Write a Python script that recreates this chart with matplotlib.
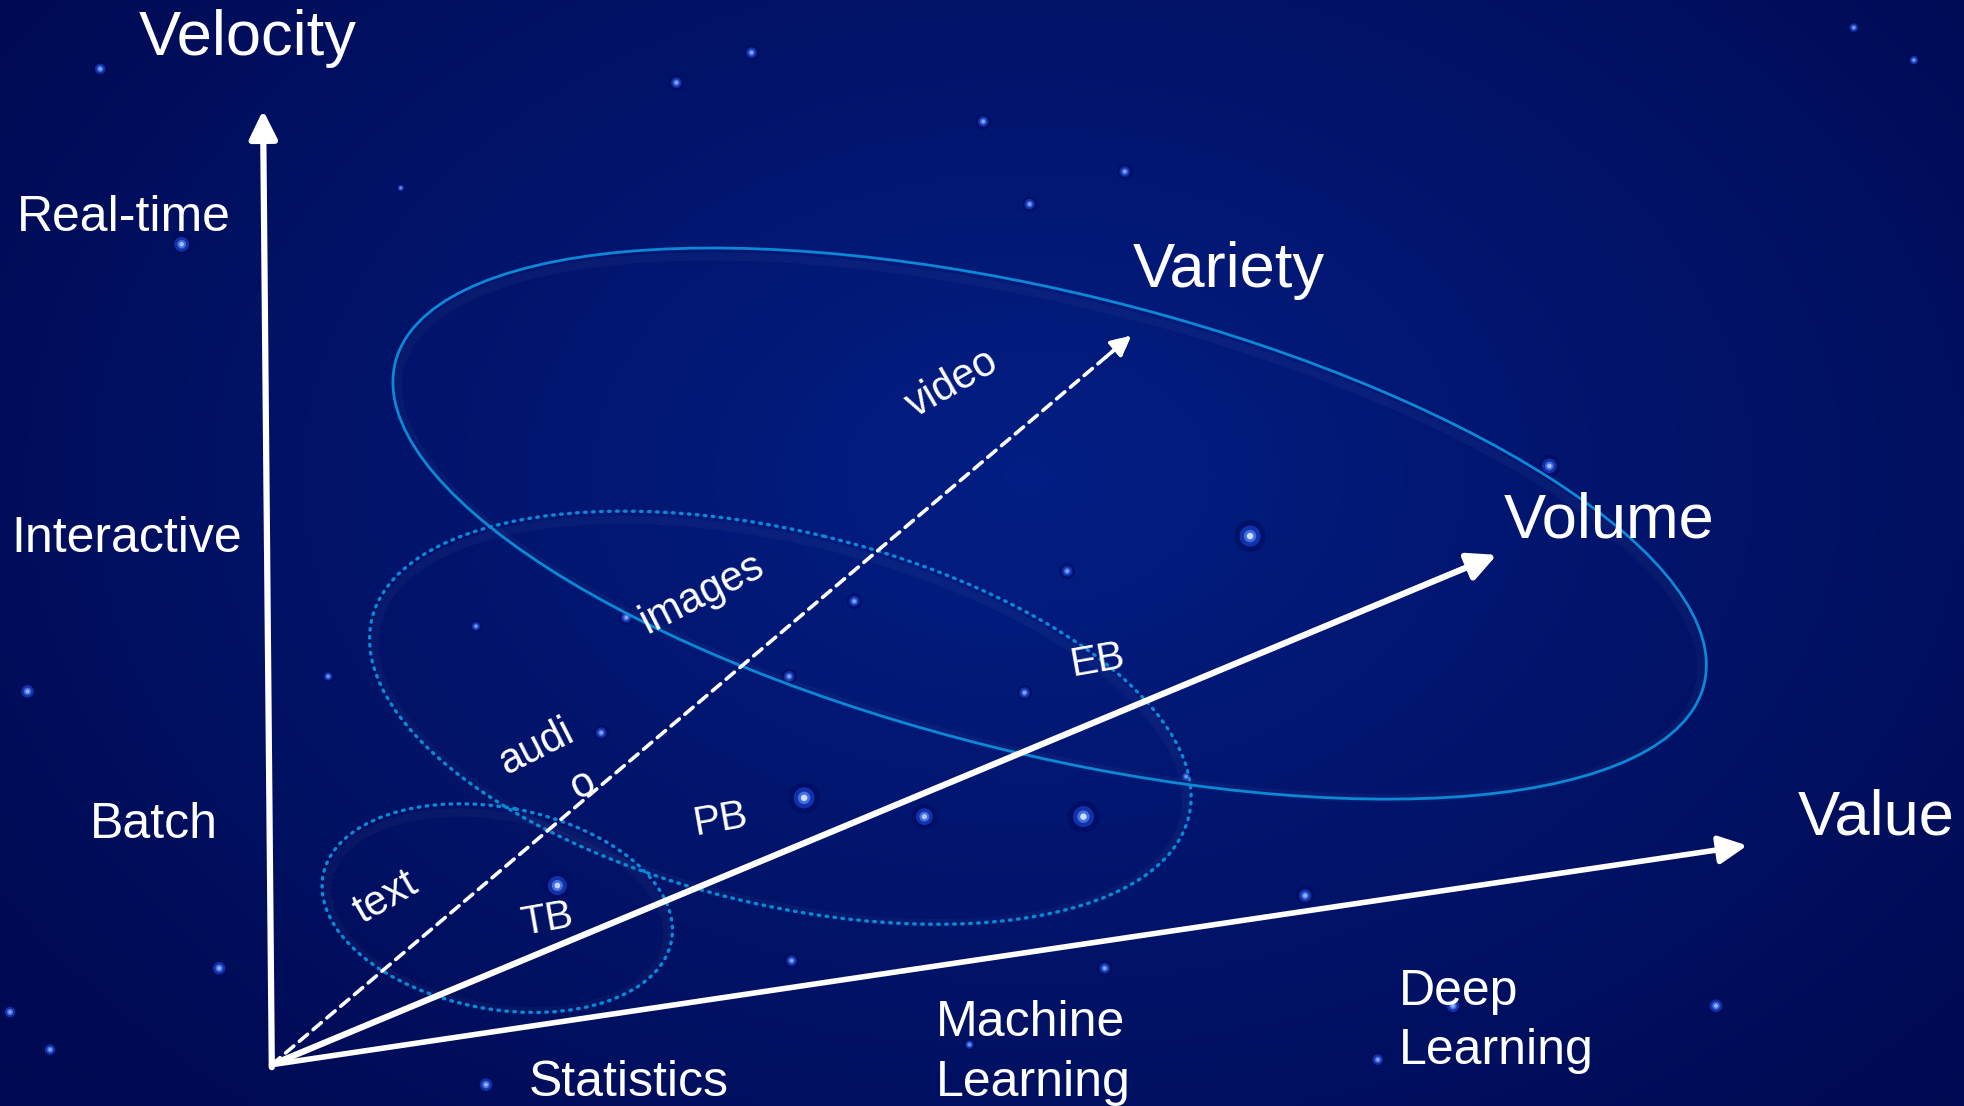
import numpy as np
import matplotlib.pyplot as plt
from matplotlib.patches import Ellipse, FancyArrowPatch

# canvas in reference pixel units (y grows downward)
W, H = 1568, 883

# axes: name, start, end, line width, line style
axis_names = ["Velocity", "Variety", "Volume", "Value"]
axis_start = [(217, 852), (217, 850), (217, 850), (217, 850)]
axis_end = [(210, 88), (903, 268), (1195, 443), (1395, 675)]
axis_widths = [4.5, 2.6, 4.5, 4.0]
axis_styles = ["solid", (0, (3, 2)), "solid", "solid"]

axis_label_pos = [(198, 31), (981, 216), (1285, 416), (1498, 653)]

# ticks along each axis
velocity_ticks = ["Real-time", "Interactive", "Batch"]
velocity_tick_pos = [(99, 174), (101, 430), (123, 659)]

variety_ticks = ["video", "images", "audi", "o", "text"]
variety_tick_pos = [(760, 306), (560, 474), (428, 597), (465, 627), (308, 717)]
variety_tick_rot = [30, 27, 27, 27, 30]

volume_ticks = ["EB", "PB", "TB"]
volume_tick_pos = [(876, 527), (575, 654), (437, 734)]

value_ticks = ["Statistics", "Machine", "Learning", "Deep", "Learning"]
value_tick_pos = [(422, 865), (747, 817), (747, 865), (1117, 792), (1117, 839)]

# ellipses: center, width, height, angle, dotted?
ell_centers = [(838, 418), (623, 573), (397, 725)]
ell_widths = [1076, 671, 283]
ell_heights = [368, 298, 161]
ell_angles = [13.8, 13.6, 10.6]
ell_dotted = [False, True, True]

# background stars: x, y, brightness
star_x = [80, 600, 540, 785, 898, 822, 145, 1480, 1528, 1237, 998, 852, 682, 500,
          380, 262, 22, 630, 480, 818, 642, 738, 865, 445, 947, 1042, 632, 175,
          882, 8, 40, 1370, 1160, 1100, 774, 388, 320]
star_y = [55, 42, 66, 97, 137, 163, 195, 22, 48, 372, 428, 456, 480, 493,
          500, 540, 552, 540, 585, 553, 637, 652, 652, 707, 620, 715, 767, 773,
          773, 808, 838, 803, 803, 846, 834, 866, 150]
star_b = [0.5, 0.5, 0.5, 0.5, 0.5, 0.5, 0.7, 0.4, 0.4, 0.7, 1.0, 0.5, 0.5, 0.5,
          0.4, 0.4, 0.6, 0.5, 0.5, 0.5, 1.0, 0.8, 1.0, 0.9, 0.4, 0.6, 0.5, 0.6,
          0.5, 0.5, 0.5, 0.6, 0.6, 0.5, 0.4, 0.6, 0.3]

FONT = "Liberation Sans"
LINE_BLUE = "#0d88d6"


def main():
    fig = plt.figure(figsize=(19.64, 11.06), dpi=100)
    ax = fig.add_axes([0, 0, 1, 1])
    ax.set_xlim(0, W)
    ax.set_ylim(H, 0)
    ax.axis("off")

    # radial gradient background
    yy, xx = np.mgrid[0:H:2, 0:W:2]
    d = np.sqrt(((xx - 820) / 1000.0) ** 2 + ((yy - 380) / 700.0) ** 2)
    d = np.clip(d, 0, 1)[..., None]
    inner = np.array([3, 30, 132]) / 255.0
    outer = np.array([0, 10, 82]) / 255.0
    img = inner * (1 - d) + outer * d
    ax.imshow(img, extent=(0, W, H, 0), aspect="auto", zorder=0)

    # stars
    sx = np.array(star_x)
    sy = np.array(star_y)
    sb = np.array(star_b)
    ax.scatter(sx, sy, s=520 * sb ** 2, color="#000a5c", alpha=0.55, lw=0, zorder=1)
    ax.scatter(sx, sy, s=230 * sb ** 2, color="#1a3cc0", alpha=0.75, lw=0, zorder=1)
    ax.scatter(sx, sy, s=80 * sb ** 2, color="#4f7ff0", alpha=0.8, lw=0, zorder=1)
    ax.scatter(sx, sy, s=22 * sb ** 2, color="#d6e6ff", alpha=0.95 * sb, lw=0, zorder=1)

    # ellipses with a faint glow
    for c, w, h, a, dotted in zip(ell_centers, ell_widths, ell_heights, ell_angles, ell_dotted):
        glow = Ellipse((c[0], c[1] + 3), w - 8, h - 8, angle=a, fill=False,
                       edgecolor="white", lw=6, alpha=0.03, zorder=2)
        ax.add_patch(glow)
        if dotted:
            e = Ellipse(c, w, h, angle=a, fill=False, edgecolor=LINE_BLUE,
                        lw=2.4, linestyle=(0, (0.5, 1.9)), zorder=3)
            e.set_capstyle("round")
        else:
            e = Ellipse(c, w, h, angle=a, fill=False, edgecolor=LINE_BLUE,
                        lw=2.0, zorder=3)
        ax.add_patch(e)

    # axis arrows
    for s, e, lw, ls in zip(axis_start, axis_end, axis_widths, axis_styles):
        big = lw > 3
        arr = FancyArrowPatch(
            s, e,
            arrowstyle=f"-|>,head_length={0.85 if big else 0.6},head_width={0.42 if big else 0.3}",
            mutation_scale=20, lw=lw, linestyle=ls, color="white",
            shrinkA=0, shrinkB=0, zorder=5,
        )
        ax.add_patch(arr)
        if not big:
            # solid head for the dashed axis
            head = FancyArrowPatch(
                (s[0] + (e[0] - s[0]) * 0.97, s[1] + (e[1] - s[1]) * 0.97), e,
                arrowstyle="-|>,head_length=0.6,head_width=0.3",
                mutation_scale=20, lw=lw, color="white",
                shrinkA=0, shrinkB=0, zorder=5,
            )
            ax.add_patch(head)

    # axis labels
    for name, (x, y) in zip(axis_names, axis_label_pos):
        ax.text(x, y, name, ha="center", va="center", fontsize=45.5,
                color="white", family=FONT, zorder=6)

    for name, (x, y) in zip(velocity_ticks, velocity_tick_pos):
        ax.text(x, y, name, ha="center", va="center", fontsize=36,
                color="white", family=FONT, zorder=6)

    for name, (x, y), r in zip(variety_ticks, variety_tick_pos, variety_tick_rot):
        ax.text(x, y, name, ha="center", va="center", fontsize=30, rotation=r,
                rotation_mode="anchor", color="white", family=FONT, zorder=6)

    for name, (x, y) in zip(volume_ticks, volume_tick_pos):
        ax.text(x, y, name, ha="center", va="center", fontsize=29.5, rotation=10,
                rotation_mode="anchor", color="white", family=FONT, zorder=6)

    for name, (x, y) in zip(value_ticks, value_tick_pos):
        ax.text(x, y, name, ha="left", va="center", fontsize=36,
                color="white", family=FONT, zorder=6)

    plt.savefig("out.png", dpi=100)


if __name__ == "__main__":
    main()
